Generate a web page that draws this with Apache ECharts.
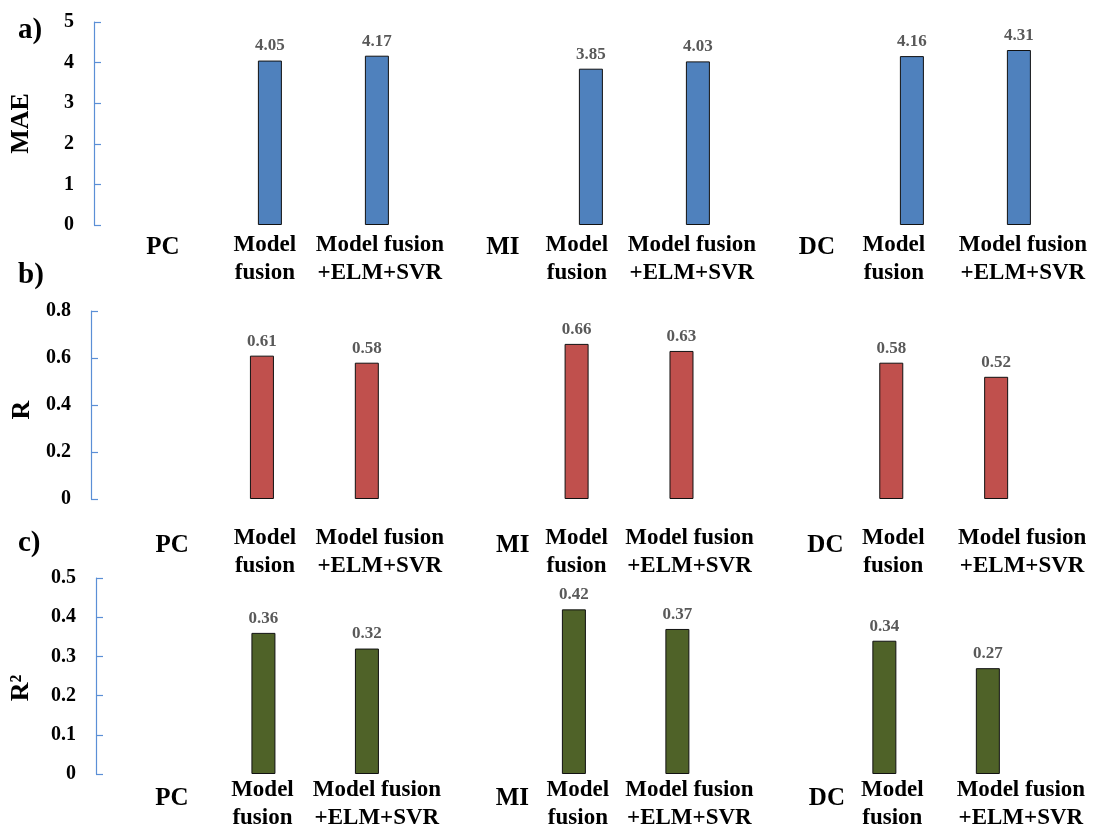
<!DOCTYPE html>
<html>
<head>
<meta charset="utf-8">
<script src="https://cdn.jsdelivr.net/npm/echarts@6/dist/echarts.min.js"></script>
<style>
  html, body { margin: 0; padding: 0; background: #ffffff; }
  #chart { width: 1099px; height: 834px; }
</style>
</head>
<body>
<div id="chart"></div>
<script>
// ---- data ----
var groups = ['PC', 'MI', 'DC'];
var models = ['Model\nfusion', 'Model fusion\n+ELM+SVR'];
var panelLetters = ['a)', 'b)', 'c)'];
var metricNames = ['MAE', 'R', 'R\u00B2'];
var maeValues = [4.05, 4.17, 3.85, 4.03, 4.16, 4.31];
var rValues = [0.61, 0.58, 0.66, 0.63, 0.58, 0.52];
var r2Values = [0.36, 0.32, 0.42, 0.37, 0.34, 0.27];
var yMax = [5, 0.8, 0.5];
var yInterval = [1, 0.2, 0.1];

// ---- layout / style (not data) ----
var FONT = 'Liberation Serif';
var barColors = ['#4F81BD', '#C0504D', '#4F6228'];
var panels = [
  { left: 108.4, width: 964, top: 22, height: 203, yOffset: 15.4, nameGap: 60, namePad: [0, 0, 0, 0],
    labelMargin: 6, groupPadTop: 5, dx: [0, -5, 3, 19, -14, -6, 12, -18, 4], titleTop: 11 },
  { left: 104.6, width: 944, top: 311, height: 188, yOffset: 13.6, nameGap: 56, namePad: [0, 10, 0, 0],
    labelMargin: 25, groupPadTop: 15, dx: [15, 3, 13, 41, 0, 8, 39, 2, 26], titleTop: 256 },
  { left: 107.2, width: 932.4, top: 578, height: 196, yOffset: 12.2, nameGap: 62, namePad: [0, 24, 0, 0],
    labelMargin: 2, groupPadTop: 18, dx: [12, -1, 10, 42, 4, 12, 46, 8, 33], titleTop: 524 }
];
var allValues = [maeValues, rValues, r2Values];

// categories: group label slot followed by the two models
var categories = [];
groups.forEach(function (g) { categories.push(g); models.forEach(function (m) { categories.push(m); }); });
function seriesData(vals) {
  var out = [], k = 0;
  groups.forEach(function () { out.push('-'); models.forEach(function () { out.push(vals[k++]); }); });
  return out;
}

var grid = [], xAxis = [], yAxis = [], series = [], title = [];
panels.forEach(function (p, i) {
  grid.push({ left: p.left, top: p.top, width: p.width, height: p.height, containLabel: false });
  var rich = {};
  categories.forEach(function (c, k) {
    var isGroup = groups.indexOf(c) >= 0;
    var dx = p.dx[k];
    rich['t' + k] = {
      fontFamily: FONT, fontWeight: 'bold', color: '#000',
      fontSize: isGroup ? 25 : 23, lineHeight: 28,
      padding: [isGroup ? p.groupPadTop : 0, dx < 0 ? -2 * dx : 0, 0, dx > 0 ? 2 * dx : 0]
    };
  });
  xAxis.push({
    type: 'category', gridIndex: i, data: categories,
    axisLine: { show: false }, axisTick: { show: false },
    axisLabel: {
      interval: 0, margin: p.labelMargin, rich: rich,
      fontFamily: FONT, fontWeight: 'bold', fontSize: 23, color: '#000',
      formatter: function (value, index) {
        return value.split('\n').map(function (l) { return '{t' + index + '|' + l + '}'; }).join('\n');
      }
    }
  });
  yAxis.push({
    type: 'value', gridIndex: i, min: 0, max: yMax[i], interval: yInterval[i], offset: p.yOffset,
    name: metricNames[i], nameLocation: 'middle', nameGap: p.nameGap, nameRotate: 90,
    nameTextStyle: { fontFamily: FONT, fontWeight: 'bold', fontSize: 26, color: '#000', padding: p.namePad },
    axisLine: { show: true, lineStyle: { color: '#5B8FD6', width: 1.2 } },
    axisTick: { show: true, inside: true, length: 7, lineStyle: { color: '#5B8FD6', width: 1.2 } },
    splitLine: { show: false },
    axisLabel: { margin: 20, fontFamily: FONT, fontWeight: 'bold', fontSize: 20, color: '#000' }
  });
  series.push({
    type: 'bar', xAxisIndex: i, yAxisIndex: i, data: seriesData(allValues[i]), barWidth: 24,
    itemStyle: { color: barColors[i], borderColor: '#111', borderWidth: 1 },
    label: { show: true, position: 'top', distance: 6, fontFamily: FONT, fontWeight: 'bold', fontSize: 17, color: '#595959' },
    animation: false
  });
  title.push({ text: panelLetters[i], left: 13, top: p.titleTop,
    textStyle: { fontFamily: FONT, fontWeight: 'bold', fontSize: 29, color: '#000' } });
});

var chart = echarts.init(document.getElementById('chart'));
chart.setOption({ animation: false, backgroundColor: '#ffffff', title: title, grid: grid, xAxis: xAxis, yAxis: yAxis, series: series });
</script>
</body>
</html>
